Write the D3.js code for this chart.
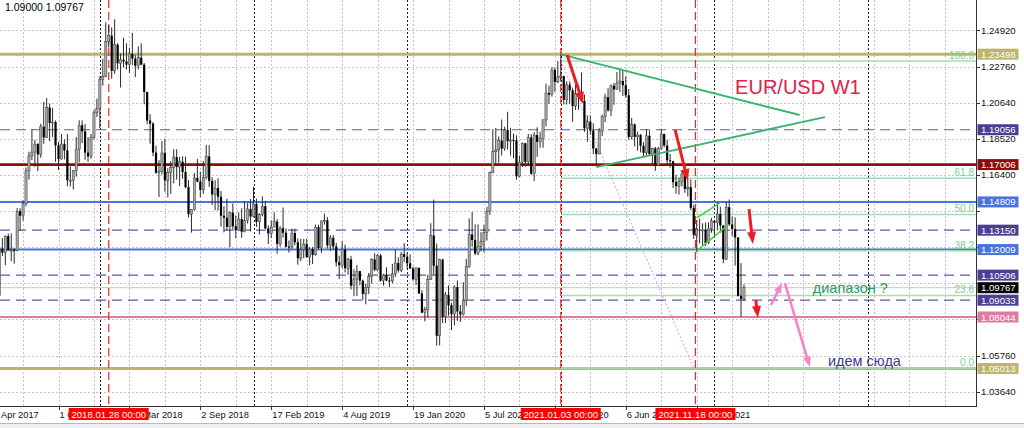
<!DOCTYPE html>
<html><head><meta charset="utf-8">
<script src="https://cdn.jsdelivr.net/npm/d3@7"></script>
<style>body{margin:0;background:#fff;overflow:hidden}svg{display:block;font-family:"Liberation Sans",Arial,sans-serif}</style>
</head><body><svg id="c" width="1024" height="428"></svg>
<script>
// ---------- DATA (weekly EUR/USD candles, first week starting 2017-05-14) ----------
const firstWeek = "2017-05-14";
const opens = [
1.0930,1.1206,1.1183,1.1280,1.1196,1.1198,1.1196,1.1426,1.1400,1.1470,1.1664,1.1751,1.1774,1.1821,1.1761,1.1923,1.1860,1.2036,1.1945,1.1951,
1.1813,1.1733,1.1821,1.1784,1.1608,1.1608,1.1665,1.1792,1.1932,1.1896,1.1771,1.1748,1.1862,1.2005,
1.2030,1.2200,1.2220,1.2426,1.2459,1.2252,1.2406,1.2296,1.2317,1.2307,1.2288,1.2352,1.2324,1.2282,1.2330,1.2288,1.2128,1.1960,1.1941,1.1771,
1.1653,1.1660,1.1769,1.1608,1.1654,1.1684,1.1745,1.1686,1.1718,1.1657,1.1568,1.1409,1.1437,1.1622,1.1601,1.1552,1.1624,1.1749,1.1605,1.1525,
1.1562,1.1511,1.1400,1.1388,1.1335,1.1418,1.1338,1.1315,1.1380,1.1306,1.1371,1.1440,
1.1395,1.1469,1.1364,1.1407,1.1456,1.1325,1.1296,1.1333,1.1365,1.1234,1.1326,1.1300,1.1218,1.1217,1.1298,1.1244,1.1150,1.1201,1.1234,1.1157,
1.1204,1.1170,1.1333,1.1210,1.1370,1.1373,1.1225,1.1270,1.1219,1.1126,1.1109,1.1201,1.1091,1.1143,1.0989,1.1027,1.1074,1.1018,1.0940,1.0978,
1.1042,1.1143,1.1082,1.1166,1.1018,1.1051,1.1019,1.1017,1.1058,1.1122,1.1079,1.1174,
1.1158,1.1120,1.1090,1.1026,1.1093,1.0943,1.0830,1.0848,1.1026,1.1283,1.1106,1.0694,1.1142,1.0806,1.0935,1.0874,1.0821,1.0981,1.0837,1.0819,
1.0901,1.1100,1.1290,1.1257,1.1178,1.1219,1.1248,1.1300,1.1427,1.1655,1.1776,1.1787,1.1842,1.1795,1.1904,1.1838,1.1845,1.1843,1.1632,1.1715,
1.1826,1.1717,1.1860,1.1647,1.1874,1.1834,1.1855,1.1964,1.2121,1.2112,1.2257,1.2187,
1.2216,1.2221,1.2082,1.2170,1.2137,1.2045,1.2119,1.2120,1.2074,1.1914,1.1953,1.1901,1.1795,1.1763,1.1898,1.1983,1.2097,1.2020,1.2164,1.2143,
1.2180,1.2192,1.2167,1.2108,1.1864,1.1937,1.1864,1.1875,1.1811,1.1770,1.1870,1.1761,1.1796,1.1697,1.1795,1.1880,1.1813,1.1726,1.1720,1.1597,
1.1574,1.1600,1.1645,1.1558,1.1568,1.1446,1.1287,1.1318,1.1315,1.1317,1.1240,1.1323,
1.1370,1.1359,1.1410,1.1343,1.1144,1.1450,1.1349,1.1322,1.1272,1.0929,1.0911];
const highs = [
1.1209,1.1268,1.1284,1.1296,1.1296,1.1210,1.1445,1.1444,1.1490,1.1683,1.1777,1.1910,1.1846,1.1827,1.1941,1.2070,1.2092,1.2059,1.2034,1.1960,
1.1835,1.1880,1.1847,1.1880,1.1689,1.1668,1.1862,1.1961,1.1961,1.1939,1.1862,1.1880,1.2022,1.2089,
1.2219,1.2323,1.2537,1.2520,1.2507,1.2555,1.2414,1.2354,1.2446,1.2413,1.2388,1.2476,1.2346,1.2396,1.2414,1.2298,1.2128,1.1997,1.1951,1.1812,
1.1727,1.1840,1.1852,1.1679,1.1721,1.1791,1.1791,1.1746,1.1750,1.1747,1.1609,1.1433,1.1652,1.1734,1.1660,1.1722,1.1816,1.1815,1.1625,1.1609,
1.1621,1.1545,1.1456,1.1500,1.1423,1.1472,1.1402,1.1420,1.1444,1.1486,1.1475,1.1498,
1.1570,1.1500,1.1415,1.1514,1.1488,1.1343,1.1372,1.1420,1.1381,1.1339,1.1448,1.1324,1.1254,1.1324,1.1324,1.1266,1.1265,1.1263,1.1264,1.1215,
1.1216,1.1348,1.1348,1.1371,1.1412,1.1393,1.1286,1.1286,1.1240,1.1165,1.1250,1.1230,1.1153,1.1164,1.1085,1.1109,1.1075,1.1025,1.0999,1.1063,
1.1150,1.1179,1.1175,1.1176,1.1059,1.1097,1.1040,1.1117,1.1200,1.1155,1.1188,1.1239,
1.1179,1.1173,1.1100,1.1095,1.1096,1.0962,1.0864,1.1053,1.1356,1.1495,1.1236,1.1147,1.1147,1.0952,1.0990,1.0888,1.0990,1.1019,1.0875,1.1009,
1.1146,1.1384,1.1422,1.1349,1.1349,1.1303,1.1346,1.1452,1.1660,1.1909,1.1916,1.1866,1.1966,1.1923,1.2011,1.1917,1.1883,1.1873,1.1754,1.1831,
1.1829,1.1881,1.1880,1.1891,1.1920,1.1894,1.1965,1.2177,1.2165,1.2273,1.2272,1.2310,
1.2349,1.2223,1.2190,1.2189,1.2150,1.2170,1.2170,1.2243,1.2113,1.1990,1.1990,1.1943,1.1799,1.1914,1.1994,1.2117,1.2150,1.2172,1.2181,1.2245,
1.2266,1.2254,1.2218,1.2145,1.1975,1.1942,1.1895,1.1880,1.1833,1.1909,1.1900,1.1800,1.1804,1.1805,1.1909,1.1884,1.1846,1.1764,1.1723,1.1641,
1.1624,1.1669,1.1692,1.1616,1.1613,1.1464,1.1375,1.1383,1.1355,1.1361,1.1361,1.1386,
1.1376,1.1482,1.1453,1.1346,1.1483,1.1495,1.1395,1.1390,1.1274,1.1121,1.0997];
const lows = [
1.0918,1.1162,1.1109,1.1196,1.1132,1.1118,1.1190,1.1312,1.1371,1.1455,1.1612,1.1728,1.1688,1.1662,1.1741,1.1823,1.1858,1.1838,1.1861,1.1717,
1.1669,1.1730,1.1731,1.1574,1.1572,1.1554,1.1630,1.1713,1.1827,1.1729,1.1717,1.1734,1.1849,1.1981,
1.1915,1.2165,1.2215,1.2389,1.2206,1.2235,1.2260,1.2154,1.2272,1.2259,1.2240,1.2285,1.2215,1.2260,1.2285,1.2055,1.1938,1.1823,1.1750,1.1646,
1.1510,1.1642,1.1541,1.1508,1.1528,1.1591,1.1612,1.1575,1.1617,1.1561,1.1389,1.1301,1.1430,1.1597,1.1510,1.1528,1.1613,1.1570,1.1463,1.1432,
1.1431,1.1336,1.1302,1.1316,1.1215,1.1321,1.1267,1.1311,1.1270,1.1302,1.1354,1.1307,
1.1390,1.1334,1.1290,1.1396,1.1322,1.1234,1.1268,1.1332,1.1176,1.1218,1.1271,1.1213,1.1183,1.1205,1.1226,1.1112,1.1133,1.1150,1.1152,1.1107,
1.1116,1.1165,1.1203,1.1181,1.1348,1.1207,1.1193,1.1200,1.1101,1.1027,1.1091,1.1066,1.1052,1.0966,1.0926,1.0927,1.0990,1.0903,1.0879,1.0940,
1.1001,1.1073,1.1073,1.1012,1.0989,1.1014,1.0981,1.1003,1.1040,1.1066,1.1069,1.1127,
1.1087,1.1086,1.1019,1.0992,1.0940,1.0827,1.0778,1.0802,1.1022,1.1054,1.0636,1.0637,1.0769,1.0769,1.0812,1.0727,1.0755,1.0782,1.0775,1.0813,
1.0870,1.1093,1.1218,1.1168,1.1168,1.1190,1.1186,1.1254,1.1406,1.1650,1.1696,1.1711,1.1753,1.1782,1.1789,1.1753,1.1737,1.1612,1.1626,1.1686,
1.1689,1.1703,1.1640,1.1603,1.1746,1.1800,1.1800,1.1925,1.2058,1.2100,1.2129,1.2180,
1.2190,1.2054,1.2054,1.2058,1.1952,1.2022,1.2023,1.2069,1.1893,1.1835,1.1875,1.1762,1.1704,1.1761,1.1868,1.1950,1.2012,1.1986,1.2052,1.2140,
1.2127,1.2104,1.2093,1.1847,1.1848,1.1807,1.1782,1.1772,1.1752,1.1757,1.1760,1.1705,1.1664,1.1694,1.1787,1.1803,1.1700,1.1683,1.1563,1.1529,
1.1524,1.1572,1.1535,1.1513,1.1432,1.1264,1.1186,1.1236,1.1226,1.1222,1.1234,1.1300,
1.1273,1.1314,1.1300,1.1121,1.1139,1.1340,1.1280,1.1106,1.0925,1.0806,1.0900];
const closes = [
1.1206,1.1183,1.1280,1.1196,1.1198,1.1196,1.1426,1.1400,1.1470,1.1664,1.1751,1.1774,1.1821,1.1761,1.1923,1.1860,1.2036,1.1945,1.1951,1.1813,
1.1733,1.1821,1.1784,1.1608,1.1608,1.1665,1.1792,1.1932,1.1896,1.1771,1.1748,1.1862,1.2005,1.2030,
1.2200,1.2220,1.2426,1.2459,1.2252,1.2406,1.2296,1.2317,1.2307,1.2288,1.2352,1.2324,1.2282,1.2330,1.2288,1.2128,1.1960,1.1941,1.1771,1.1653,
1.1660,1.1769,1.1608,1.1654,1.1684,1.1745,1.1686,1.1718,1.1657,1.1568,1.1409,1.1437,1.1622,1.1601,1.1552,1.1624,1.1749,1.1605,1.1525,1.1562,
1.1511,1.1400,1.1388,1.1335,1.1418,1.1338,1.1315,1.1380,1.1306,1.1371,1.1440,1.1395,
1.1469,1.1364,1.1407,1.1456,1.1325,1.1296,1.1333,1.1365,1.1234,1.1326,1.1300,1.1218,1.1217,1.1298,1.1244,1.1150,1.1201,1.1234,1.1157,1.1204,
1.1170,1.1333,1.1210,1.1370,1.1373,1.1225,1.1270,1.1219,1.1126,1.1109,1.1201,1.1091,1.1143,1.0989,1.1027,1.1074,1.1018,1.0940,1.0978,1.1042,
1.1143,1.1082,1.1166,1.1018,1.1051,1.1019,1.1017,1.1058,1.1122,1.1079,1.1174,1.1158,
1.1120,1.1090,1.1026,1.1093,1.0943,1.0830,1.0848,1.1026,1.1283,1.1106,1.0694,1.1142,1.0806,1.0935,1.0874,1.0821,1.0981,1.0837,1.0819,1.0901,
1.1100,1.1290,1.1257,1.1178,1.1219,1.1248,1.1300,1.1427,1.1655,1.1776,1.1787,1.1842,1.1795,1.1904,1.1838,1.1845,1.1843,1.1632,1.1715,1.1826,
1.1717,1.1860,1.1647,1.1874,1.1834,1.1855,1.1964,1.2121,1.2112,1.2257,1.2187,1.2216,
1.2221,1.2082,1.2170,1.2137,1.2045,1.2119,1.2120,1.2074,1.1914,1.1953,1.1901,1.1795,1.1763,1.1898,1.1983,1.2097,1.2020,1.2164,1.2143,1.2180,
1.2192,1.2167,1.2108,1.1864,1.1937,1.1864,1.1875,1.1811,1.1770,1.1870,1.1761,1.1796,1.1697,1.1795,1.1880,1.1813,1.1726,1.1720,1.1597,1.1574,
1.1600,1.1645,1.1558,1.1568,1.1446,1.1287,1.1318,1.1315,1.1317,1.1240,1.1323,1.1370,
1.1359,1.1410,1.1343,1.1144,1.1450,1.1349,1.1322,1.1272,1.0929,1.0911,1.09767];

const priceTicks = [1.24920,1.22760,1.20640,1.18520,1.16400,1.14280,1.12160,1.10040,1.07920,1.05760,1.03640];
const dateTickLabels = ["16 Apr 2017","1 Oct 2017","18 Mar 2018","2 Sep 2018","17 Feb 2019","4 Aug 2019","19 Jan 2020","5 Jul 2020","20 Dec 2020","6 Jun 2021","21 Nov 2021"];
const headerText = "1.09000 1.09767";

const goldLevels = [1.23498, 1.05013];
const maroonLevels = [1.17006];
const blueLevels = [1.14809, 1.12009];
const dashedLevels = [1.19056, 1.13150, 1.10506, 1.09033];
const pinkLevels = [1.08044];
const bidPrice = 1.09767;

const yearSeparators = ["2018-01-07","2019-01-06","2020-01-05","2021-01-03","2022-01-02","2023-01-01"];
const markerDates = ["2018-01-28","2021-01-03","2021-11-18"];
const markerLabels = ["2018.01.28 00:00","2021.01.03 00:00","2021.11.18 00:00"];

const fibLevels = [100.0, 61.8, 50.0, 38.2, 23.6, 0.0];
const fibHigh = ["2021-01-03", 1.2310];
const fibLow  = ["2021-11-14", 1.0505];

const triangleLines = [
  [["2021-01-03",1.2349],["2022-07-23",1.1992]],
  [["2021-03-28",1.1686],["2022-09-21",1.1980]]];
const channelLines = [
  [["2021-11-21",1.1387],["2022-01-15",1.1475]],
  [["2021-11-21",1.1193],["2022-02-03",1.1345]]];
const redArrows = [
  [["2021-01-18",1.2345],["2021-02-25",1.2057]],
  [["2021-10-01",1.1904],["2021-10-31",1.1604]],
  [["2022-03-25",1.1439],["2022-04-03",1.1234]],
  [["2022-04-10",1.0904],["2022-04-15",1.0799]]];
const pinkArrows = [
  [["2022-05-16",1.0875],["2022-06-11",1.1004]],
  [["2022-06-18",1.1004],["2022-08-16",1.0510]]];
const notes = [
  {text:"EUR/USD W1", at:["2022-02-20",1.2116], size:20, color:"#e0204a"},
  {text:"диапазон ?", at:["2022-08-23",1.0946], size:14.5, color:"#2e9a63"},
  {text:"идем сюда", at:["2022-09-28",1.0518], size:14.5, color:"#3f3a95"}];

// ---------- CHART ----------
const plotR = 976, plotB = 406;
const svg = d3.select("#c");
const parse = d3.utcParse("%Y-%m-%d");
const x = d3.scaleUtc().domain([parse("2017-10-01"), parse("2021-11-21")]).range([58.5, 696.7]);
const y = d3.scaleLinear().domain([1.03640, 1.24920]).range([391.9, 30]);
const weeks = d3.utcWeek.range(parse(firstWeek), d3.utcWeek.offset(parse(firstWeek), closes.length));
const bars = weeks.map((d,i)=>({d, o:opens[i], h:highs[i], l:lows[i], c:closes[i]}));
const P = a => [x(parse(a[0])), y(a[1])];

svg.append("rect").attr("width",1024).attr("height",428).attr("fill","#fff");
svg.append("defs").append("clipPath").attr("id","plot").append("rect").attr("width",plotR).attr("height",plotB);
const g = svg.append("g").attr("clip-path","url(#plot)");

// grid
const gridAnchor = parse("2017-10-01");
const gridDates = d3.range(-1, 27).map(k => d3.utcWeek.offset(gridAnchor, 12*k));
g.selectAll(".vg").data(gridDates).join("line")
  .attr("x1",d=>Math.round(x(d))+0.5).attr("x2",d=>Math.round(x(d))+0.5).attr("y1",0).attr("y2",plotB)
  .attr("stroke","#c4c4c4").attr("stroke-dasharray","2,2");
g.selectAll(".hg").data(priceTicks).join("line")
  .attr("x1",0).attr("x2",plotR).attr("y1",d=>Math.round(y(d))+0.5).attr("y2",d=>Math.round(y(d))+0.5)
  .attr("stroke","#c4c4c4").attr("stroke-dasharray","2,2");

// year separators
g.selectAll(".ys").data(yearSeparators).join("line")
  .attr("x1",d=>Math.round(x(parse(d)))+0.5).attr("x2",d=>Math.round(x(parse(d)))+0.5)
  .attr("y1",0).attr("y2",plotB).attr("stroke","#222").attr("stroke-dasharray","2,2");

// horizontal levels
function hlines(levels, color, width, dash){
  g.selectAll(null).data(levels).join("line")
    .attr("x1",0).attr("x2",plotR).attr("y1",d=>y(d)).attr("y2",d=>y(d))
    .attr("stroke",color).attr("stroke-width",width).attr("stroke-dasharray",dash||null);
}
hlines([bidPrice], "#cfcfcf", 1.2);
hlines(goldLevels, "#bdb56c", 3);
hlines(maroonLevels, "#8e0c0c", 2.6);
hlines(blueLevels, "#4a73de", 2);
hlines(dashedLevels, "#6158a8", 1.2, "10,6");
hlines(pinkLevels, "#e07aa0", 2);

// fibonacci
const fx0 = x(parse(fibHigh[0]));
const fibPrice = lv => fibLow[1] + (fibHigh[1]-fibLow[1])*lv/100;
g.selectAll(".fib").data(fibLevels).join("line")
  .attr("x1",fx0).attr("x2",plotR).attr("y1",d=>y(fibPrice(d))).attr("y2",d=>y(fibPrice(d)))
  .attr("stroke","#a4dcb6").attr("stroke-width",1.5);
g.selectAll(".fibt").data(fibLevels).join("text")
  .attr("x",974).attr("y",d=>y(fibPrice(d))-2).attr("text-anchor","end")
  .attr("font-size",10).attr("fill","#7ccc95").text(d=>d.toFixed(1));
g.append("line").attr("x1",P(fibHigh)[0]).attr("y1",P(fibHigh)[1]).attr("x2",P(fibLow)[0]).attr("y2",P(fibLow)[1])
  .attr("stroke","#ee88ee").attr("stroke-width",1).attr("stroke-dasharray","2,2");

// red date markers
g.selectAll(".rm").data(markerDates).join("line")
  .attr("x1",d=>x(parse(d))).attr("x2",d=>x(parse(d))).attr("y1",0).attr("y2",plotB)
  .attr("stroke","#ff2222").attr("stroke-width",1.2).attr("stroke-dasharray","8,4");

// candles
const bw = 2.2;
const cg = g.append("g");
cg.selectAll(".wick").data(bars).join("line")
  .attr("x1",d=>x(d.d)).attr("x2",d=>x(d.d))
  .attr("y1",d=>y(Math.max(d.h,d.o,d.c))).attr("y2",d=>y(Math.min(d.l,d.o,d.c)))
  .attr("stroke","#2a2a2a").attr("stroke-width",1);
cg.selectAll(".body").data(bars).join("rect")
  .attr("x",d=>x(d.d)-bw/2).attr("width",bw)
  .attr("y",d=>y(Math.max(d.o,d.c))).attr("height",d=>Math.max(1,Math.abs(y(d.o)-y(d.c))))
  .attr("fill",d=>d.c>=d.o?"#a8a8a8":"#000").attr("stroke",d=>d.c>=d.o?"#3a3a3a":"none").attr("stroke-width",0.5);

// trend lines
function seg(list, color, width){
  g.selectAll(null).data(list).join("line")
    .attr("x1",d=>P(d[0])[0]).attr("y1",d=>P(d[0])[1]).attr("x2",d=>P(d[1])[0]).attr("y2",d=>P(d[1])[1])
    .attr("stroke",color).attr("stroke-width",width);
}
seg(triangleLines, "#3cb371", 1.9);
seg(channelLines, "#3fd43f", 1.5);

// arrows
function arrows(list, color, width, hl, hw){
  list.forEach(a=>{
    const [x1,y1]=P(a[0]), [x2,y2]=P(a[1]);
    const ang=Math.atan2(y2-y1,x2-x1), ux=Math.cos(ang), uy=Math.sin(ang);
    const bx=x2-ux*hl, by=y2-uy*hl;
    g.append("line").attr("x1",x1).attr("y1",y1).attr("x2",bx+ux).attr("y2",by+uy)
      .attr("stroke",color).attr("stroke-width",width);
    g.append("path").attr("d",`M${x2},${y2}L${bx-uy*hw/2},${by+ux*hw/2}L${bx+uy*hw/2},${by-ux*hw/2}Z`).attr("fill",color);
  });
}
arrows(redArrows, "#ee1c24", 3, 12, 9);
arrows(pinkArrows, "#f585c8", 2.6, 10, 8);

// notes
g.selectAll(".note").data(notes).join("text")
  .attr("x",d=>P(d.at)[0]).attr("y",d=>P(d.at)[1]).attr("font-size",d=>d.size).attr("fill",d=>d.color).text(d=>d.text);

// header
svg.append("text").attr("x",5).attr("y",10.5).attr("font-size",10.5).attr("fill","#000").text(headerText);

// axes frame
svg.append("line").attr("x1",plotR+0.5).attr("x2",plotR+0.5).attr("y1",0).attr("y2",plotB).attr("stroke","#333");
svg.append("line").attr("x1",0).attr("x2",plotR+1).attr("y1",plotB+0.5).attr("y2",plotB+0.5).attr("stroke","#333");

// price boxes
const boxes = [
  ...goldLevels.map(v=>({v,bg:"#bdb56c",fg:"#fff"})),
  ...maroonLevels.map(v=>({v,bg:"#8e0c0c",fg:"#fff"})),
  ...blueLevels.map(v=>({v,bg:"#4a73de",fg:"#fff"})),
  ...dashedLevels.map(v=>({v,bg:"#4b3f94",fg:"#fff"})),
  ...pinkLevels.map(v=>({v,bg:"#e07aa0",fg:"#fff"})),
  {v:bidPrice,bg:"#000",fg:"#fff"}];

// price ticks (labels hidden behind a level box are not drawn)
svg.selectAll(".pt").data(priceTicks).join("line")
  .attr("x1",plotR).attr("x2",plotR+4).attr("y1",d=>Math.round(y(d))+0.5).attr("y2",d=>Math.round(y(d))+0.5).attr("stroke","#333");
const visibleTicks = priceTicks.filter(t => !boxes.some(b => Math.abs(y(b.v)-y(t)) < 9));
svg.selectAll(".ptl").data(visibleTicks).join("text")
  .attr("x",981).attr("y",d=>y(d)+3.5).attr("font-size",9.6).attr("fill","#111").text(d=>d3.format(".5f")(d));

const bx = svg.selectAll(".box").data(boxes).join("g");
bx.append("rect").attr("x",977.5).attr("y",d=>y(d.v)-5.5).attr("width",41).attr("height",11).attr("fill",d=>d.bg);
bx.append("text").attr("x",981).attr("y",d=>y(d.v)+3.5).attr("font-size",9.6).attr("fill",d=>d.fg).text(d=>d3.format(".5f")(d.v));

// date axis
const dparse = d3.utcParse("%d %b %Y");
const dticks = dateTickLabels.map(s=>({s, d:dparse(s)}));
svg.selectAll(".dt").data(dticks).join("line")
  .attr("x1",d=>Math.round(x(d.d))+0.5).attr("x2",d=>Math.round(x(d.d))+0.5).attr("y1",plotB).attr("y2",plotB+4).attr("stroke","#333");
svg.selectAll(".dtl").data(dticks).join("text")
  .attr("x",d=>x(d.d)+1).attr("y",417.5).attr("font-size",9.3).attr("fill","#111").text(d=>d.s);

// red date boxes
const mk = svg.selectAll(".mk").data(markerDates.map((d,i)=>({d:parse(d), t:markerLabels[i]}))).join("g");
mk.append("rect").attr("x",d=>x(d.d)-40).attr("y",408).attr("width",80).attr("height",12).attr("fill","#ff0000");
mk.append("text").attr("x",d=>x(d.d)).attr("y",417.5).attr("text-anchor","middle").attr("font-size",9.6).attr("fill","#fff").text(d=>d.t);

// bottom strip
svg.append("rect").attr("x",0).attr("y",423).attr("width",1024).attr("height",5).attr("fill","#f0f0f0");
svg.append("line").attr("x1",0).attr("x2",1024).attr("y1",423.5).attr("y2",423.5).attr("stroke","#b8b8b8");
</script></body></html>
